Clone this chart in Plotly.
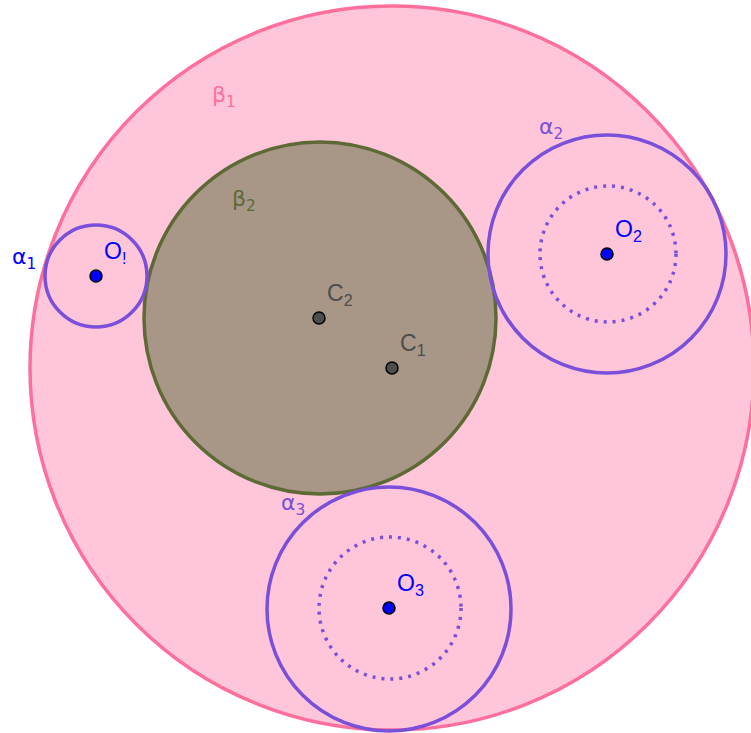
import plotly.graph_objects as go

# Circles: center x, center y, radius (in picture units, y downward)
circle_names = ["β1", "β2", "α1", "α2", "α3", "α2 inner", "α3 inner"]
circle_cx = [392, 320, 96, 607, 389, 608, 390]
circle_cy = [368, 318, 276, 254, 609, 254, 608]
circle_r = [362, 176, 51, 119, 122, 68, 71]
circle_fill = ["rgba(255,198,218,1)", "rgba(168,150,135,1)", "rgba(0,0,0,0)", "rgba(0,0,0,0)",
               "rgba(0,0,0,0)", "rgba(0,0,0,0)", "rgba(0,0,0,0)"]
circle_line = ["#ff6f9c", "#5e6a36", "#7a4fd9", "#7a4fd9", "#7a4fd9", "#7a4fd9", "#7a4fd9"]
circle_dash = ["solid", "solid", "solid", "solid", "solid", "3px,6px", "3px,6px"]

# Points
point_names = ["O<sub>!</sub>", "C<sub>2</sub>", "C<sub>1</sub>", "O<sub>2</sub>", "O<sub>3</sub>"]
point_x = [96, 319, 392, 607, 389]
point_y = [276, 318, 368, 254, 608]
point_color = ["#0000ff", "#4d4d4d", "#4d4d4d", "#0000ff", "#0000ff"]
label_color = ["#0000ff", "#4d4d4d", "#4d4d4d", "#0000ff", "#0000ff"]

# Circle labels
clabel_text = ["β<sub>1</sub>", "β<sub>2</sub>", "α<sub>1</sub>", "α<sub>2</sub>", "α<sub>3</sub>"]
clabel_x = [210, 230, 10, 537, 279]
clabel_y = [96, 200, 258, 128, 504]
clabel_color = ["#ff6f9c", "#5e6a36", "#0000ff", "#7a4fd9", "#7a4fd9"]

fig = go.Figure()

shapes = []
for cx, cy, r, fc, lc, d in zip(circle_cx, circle_cy, circle_r, circle_fill, circle_line, circle_dash):
    shapes.append(dict(type="circle", xref="x", yref="y",
                       x0=cx - r, x1=cx + r, y0=cy - r, y1=cy + r,
                       fillcolor=fc, line=dict(color=lc, width=3.5, dash=d), layer="below"))

fig.add_trace(go.Scatter(
    x=point_x, y=point_y, mode="markers",
    marker=dict(size=12, color=point_color, line=dict(color="black", width=1.5)),
    hoverinfo="skip", showlegend=False))

annotations = []
for t, x, y, c in zip(point_names, point_x, point_y, label_color):
    annotations.append(dict(x=x + 6, y=y - 24, text=t, showarrow=False, xanchor="left", yanchor="middle",
                            font=dict(family="Liberation Sans", size=23, color=c)))
for t, x, y, c in zip(clabel_text, clabel_x, clabel_y, clabel_color):
    annotations.append(dict(x=x, y=y, text=t, showarrow=False, xanchor="left", yanchor="middle",
                            font=dict(family="DejaVu Sans", size=22, color=c)))

fig.update_layout(
    width=751, height=733, margin=dict(l=0, r=0, t=0, b=0),
    paper_bgcolor="white", plot_bgcolor="white",
    xaxis=dict(range=[0, 751], visible=False, fixedrange=True),
    yaxis=dict(range=[733, 0], visible=False, fixedrange=True),
    shapes=shapes, annotations=annotations, showlegend=False)

fig.write_html("out.html", config={"displayModeBar": False, "staticPlot": True},
               post_script="document.body.style.margin='0';document.body.style.overflow='hidden';")
